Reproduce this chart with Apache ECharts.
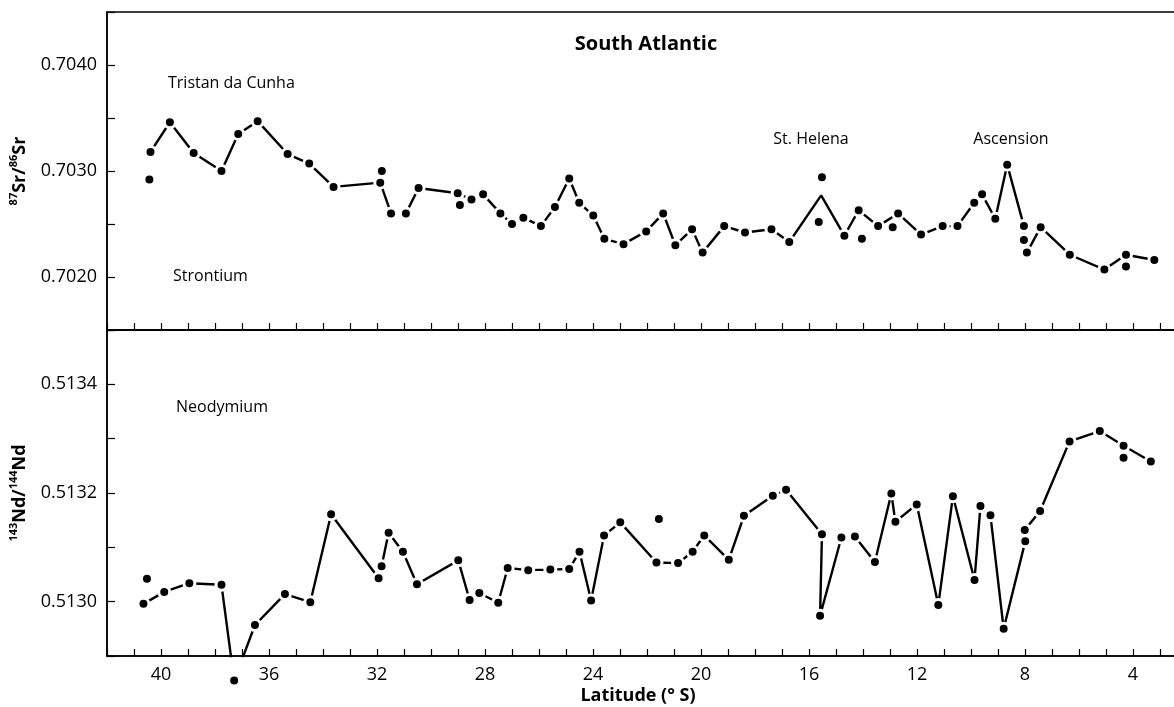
<!DOCTYPE html>
<html>
<head>
<meta charset="utf-8">
<script src="https://cdn.jsdelivr.net/npm/echarts@6/dist/echarts.min.js"></script>
<style>
html,body{margin:0;padding:0;background:#fff;}
#chart{width:1174px;height:707px;}
</style>
</head>
<body>
<div id="chart"></div>
<script>
// ---------- DATA ----------
const latitudeLabels = [40, 36, 32, 28, 24, 20, 16, 12, 8, 4];
const srTickLabels = ['0.7020', '0.7030', '0.7040'];
const ndTickLabels = ['0.5130', '0.5132', '0.5134'];

// Strontium: connected profile (null = break in the line)
const srLineLat = [40.39, 39.67, 38.79, 37.76, 37.14, 36.42, 35.31, 34.51, 33.61, 31.88, 31.48, null,
  30.93, 30.46, 29.01, 28.50, 28.07, 27.43, 27.00, 26.58, 25.93, 25.41, 24.88, 24.51, 23.99, 23.58,
  22.87, 22.03, 21.40, 20.95, 20.33, 19.94, 19.14, 18.37, 17.39, 16.73, 15.55, 14.69, 14.16, 13.44,
  12.70, 11.85, 11.05, 10.50, 9.88, 9.59, 9.10, 8.66, 8.04, 8.04, 7.93, 7.42, 6.34, 5.06, 4.26, 3.21];
const srLineVal = [0.70318, 0.70346, 0.70317, 0.70300, 0.70335, 0.70347, 0.70316, 0.70307, 0.70285, 0.70289, 0.70260, null,
  0.70260, 0.70284, 0.70279, 0.70273, 0.70278, 0.70260, 0.70250, 0.70256, 0.70248, 0.70266, 0.70293, 0.70270, 0.70258, 0.70236,
  0.70231, 0.70243, 0.70260, 0.70230, 0.70245, 0.70223, 0.70248, 0.70242, 0.70245, 0.70233, 0.70277, 0.70239, 0.70263, 0.70248,
  0.70260, 0.70240, 0.70248, 0.70248, 0.70270, 0.70278, 0.70255, 0.70306, 0.70248, 0.70235, 0.70223, 0.70247, 0.70221, 0.70207, 0.70221, 0.70216];
// line vertex drawn without a dot (St. Helena mean)
const srNoDotLat = [15.55];
// Strontium: unconnected samples
const srSoloLat = [40.43, 31.82, 28.93, 15.52, 15.64, 14.04, 12.90, 4.26];
const srSoloVal = [0.70292, 0.70300, 0.70268, 0.70294, 0.70252, 0.70236, 0.70247, 0.70210];

// Neodymium: connected profile
const ndLineLat = [40.65, 39.88, 38.95, 37.76, 37.29, 36.52, 35.41, 34.47, 33.70, 31.94, 31.83, 31.57, 31.04, 30.52,
  28.99, 28.57, 28.21, 27.51, 27.16, 26.40, 25.58, 24.88, 24.50, 24.07, 23.59, 22.99, 21.65, 20.85, 20.31, 19.88,
  18.97, 18.41, 17.34, 16.85, 15.52, 15.59, 14.80, 14.30, 13.56, 12.95, 12.80, 12.01, 11.21, 10.67, 9.87, 9.65,
  9.28, 8.79, 7.99, 8.01, 7.44, 6.35, 5.23, 4.35, 3.34];
const ndLineVal = [0.512996, 0.513018, 0.513034, 0.513031, 0.512855, 0.512957, 0.513014, 0.512999, 0.513161, 0.513043, 0.513065, 0.513127, 0.513092, 0.513032,
  0.513076, 0.513003, 0.513016, 0.512998, 0.513062, 0.513058, 0.513059, 0.513060, 0.513092, 0.513002, 0.513122, 0.513146, 0.513072, 0.513071, 0.513092, 0.513122,
  0.513077, 0.513158, 0.513195, 0.513206, 0.513124, 0.512974, 0.513118, 0.513120, 0.513073, 0.513199, 0.513147, 0.513179, 0.512994, 0.513194, 0.513040, 0.513176,
  0.513159, 0.512950, 0.513111, 0.513132, 0.513167, 0.513295, 0.513314, 0.513287, 0.513258];
// Neodymium: unconnected samples
const ndSoloLat = [40.52, 21.56, 4.35];
const ndSoloVal = [0.513042, 0.513152, 0.513265];

// ---------- CHART ----------
const FONT = 'Open Sans';
const SR_MIN = 0.7015, SR_MAX = 0.7045;
const ND_MIN = 0.5129, ND_MAX = 0.5135;

const dotStyle = { color: '#000', borderColor: '#fff', borderWidth: 3, opacity: 1 };
const lineStyle = { color: '#000', width: 2.4 };

function lineData(lats, vals, noDot, yMin) {
  return lats.map((x, i) => {
    const v = vals[i];
    if (x == null || v == null) return ['-', '-'];
    const hide = (noDot && noDot.includes(x)) || (yMin != null && v < yMin);
    return hide ? { value: [x, v], symbol: 'none' } : { value: [x, v] };
  });
}

const ndOutsideLat = [], ndOutsideVal = [];
ndLineLat.forEach((x, i) => { if (ndLineVal[i] < ND_MIN) { ndOutsideLat.push(x); ndOutsideVal.push(ndLineVal[i]); } });

const xBase = {
  type: 'value', min: 2, max: 42, interval: 1, inverse: true,
  splitLine: { show: false },
  axisLine: { show: true, onZero: false, lineStyle: { color: '#000', width: 1.5 } },
  axisTick: { show: true, inside: true, length: 7, lineStyle: { color: '#000', width: 1.2 } }
};

const yBase = {
  type: 'value',
  splitLine: { show: false },
  axisLine: { show: true, lineStyle: { color: '#000', width: 1.5 } },
  axisTick: { show: true, inside: true, length: 8, lineStyle: { color: '#000', width: 1.2 } }
};

const option = {
  animation: false,
  backgroundColor: '#fff',
  grid: [
    { left: 107, top: 12, width: 1080, height: 318, show: true, borderColor: '#000', borderWidth: 1.5, containLabel: false, outerBoundsMode: 'none' },
    { left: 107, top: 330, width: 1080, height: 326, show: true, borderColor: '#000', borderWidth: 1.5, containLabel: false, outerBoundsMode: 'none' }
  ],
  xAxis: [
    Object.assign({}, xBase, { gridIndex: 0, position: 'bottom', axisLabel: { show: false } }),
    Object.assign({}, xBase, {
      gridIndex: 1, position: 'bottom',
      axisLabel: {
        show: true, margin: 10, color: '#000', fontFamily: FONT, fontSize: 18,
        formatter: v => latitudeLabels.includes(Math.round(v)) && Math.abs(v - Math.round(v)) < 1e-6 ? String(Math.round(v)) : ''
      }
    })
  ],
  yAxis: [
    Object.assign({}, yBase, {
      gridIndex: 0, min: SR_MIN, max: SR_MAX, interval: 0.0005,
      axisLabel: {
        margin: 10, color: '#000', fontFamily: FONT, fontSize: 18,
        formatter: v => { const s = v.toFixed(4); return srTickLabels.includes(s) ? s : ''; }
      }
    }),
    Object.assign({}, yBase, {
      gridIndex: 1, min: ND_MIN, max: ND_MAX, interval: 0.0001,
      axisLabel: {
        margin: 10, color: '#000', fontFamily: FONT, fontSize: 18,
        formatter: v => { const s = v.toFixed(4); return ndTickLabels.includes(s) ? s : ''; }
      }
    })
  ],
  series: [
    {
      type: 'line', xAxisIndex: 0, yAxisIndex: 0, silent: true,
      data: lineData(srLineLat, srLineVal, srNoDotLat, null),
      connectNulls: false, showAllSymbol: true,
      symbol: 'circle', symbolSize: 11, itemStyle: dotStyle, lineStyle: lineStyle,
      emphasis: { disabled: true }
    },
    {
      type: 'scatter', xAxisIndex: 0, yAxisIndex: 0, silent: true,
      data: srSoloLat.map((x, i) => [x, srSoloVal[i]]),
      symbol: 'circle', symbolSize: 11, itemStyle: dotStyle,
      emphasis: { disabled: true }
    },
    {
      type: 'line', xAxisIndex: 1, yAxisIndex: 1, silent: true, clip: true,
      data: lineData(ndLineLat, ndLineVal, null, ND_MIN),
      connectNulls: false, showAllSymbol: true,
      symbol: 'circle', symbolSize: 11, itemStyle: dotStyle, lineStyle: lineStyle,
      emphasis: { disabled: true }
    },
    {
      type: 'scatter', xAxisIndex: 1, yAxisIndex: 1, silent: true, clip: false,
      data: ndSoloLat.map((x, i) => [x, ndSoloVal[i]]).concat(ndOutsideLat.map((x, i) => [x, ndOutsideVal[i]])),
      symbol: 'circle', symbolSize: 11, itemStyle: dotStyle,
      emphasis: { disabled: true }
    }
  ],
  graphic: [
    { type: 'text', x: 646, y: 44, silent: true,
      style: { text: 'South Atlantic', font: 'bold 20px "Open Sans"', fill: '#000', align: 'center', verticalAlign: 'middle', textAlign: 'center', textVerticalAlign: 'middle' } },
    { type: 'text', x: 168, y: 83, silent: true,
      style: { text: 'Tristan da Cunha', font: '16px "Open Sans"', fill: '#000', align: 'left', verticalAlign: 'middle', textAlign: 'left', textVerticalAlign: 'middle' } },
    { type: 'text', x: 173, y: 276, silent: true,
      style: { text: 'Strontium', font: '16px "Open Sans"', fill: '#000', align: 'left', verticalAlign: 'middle', textAlign: 'left', textVerticalAlign: 'middle' } },
    { type: 'text', x: 811, y: 139, silent: true,
      style: { text: 'St. Helena', font: '16px "Open Sans"', fill: '#000', align: 'center', verticalAlign: 'middle', textAlign: 'center', textVerticalAlign: 'middle' } },
    { type: 'text', x: 1011, y: 139, silent: true,
      style: { text: 'Ascension', font: '16px "Open Sans"', fill: '#000', align: 'center', verticalAlign: 'middle', textAlign: 'center', textVerticalAlign: 'middle' } },
    { type: 'text', x: 176, y: 407, silent: true,
      style: { text: 'Neodymium', font: '16px "Open Sans"', fill: '#000', align: 'left', verticalAlign: 'middle', textAlign: 'left', textVerticalAlign: 'middle' } },
    { type: 'text', x: 638, y: 696, silent: true,
      style: { text: 'Latitude (° S)', font: 'bold 18px "Open Sans"', fill: '#000', align: 'center', verticalAlign: 'middle', textAlign: 'center', textVerticalAlign: 'middle' } },
    { type: 'text', x: 20, y: 171, rotation: Math.PI / 2, silent: true,
      style: {
        text: '{s|87}{b|Sr/}{s|86}{b|Sr}', fill: '#000', align: 'center', verticalAlign: 'middle', textAlign: 'center', textVerticalAlign: 'middle',
        rich: {
          b: { fontFamily: FONT, fontWeight: 'bold', fontSize: 18, lineHeight: 24, fill: '#000', color: '#000' },
          s: { fontFamily: FONT, fontWeight: 'bold', fontSize: 11, lineHeight: 13, verticalAlign: 'top', fill: '#000', color: '#000' }
        }
      } },
    { type: 'text', x: 20, y: 493, rotation: Math.PI / 2, silent: true,
      style: {
        text: '{s|143}{b|Nd/}{s|144}{b|Nd}', fill: '#000', align: 'center', verticalAlign: 'middle', textAlign: 'center', textVerticalAlign: 'middle',
        rich: {
          b: { fontFamily: FONT, fontWeight: 'bold', fontSize: 18, lineHeight: 24, fill: '#000', color: '#000' },
          s: { fontFamily: FONT, fontWeight: 'bold', fontSize: 11, lineHeight: 13, verticalAlign: 'top', fill: '#000', color: '#000' }
        }
      } }
  ]
};

const chart = echarts.init(document.getElementById('chart'), null, { renderer: 'canvas' });
chart.setOption(option);
</script>
</body>
</html>
